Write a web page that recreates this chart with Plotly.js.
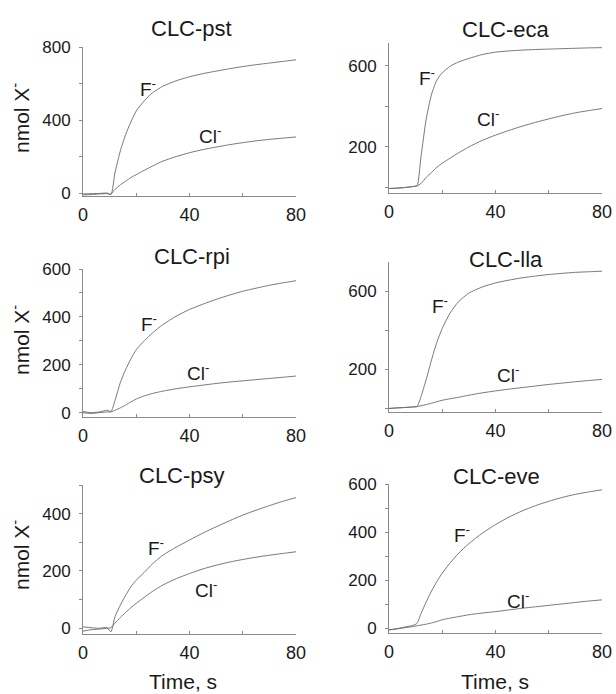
<!DOCTYPE html>
<html>
<head>
<meta charset="utf-8">
<script src="https://cdn.plot.ly/plotly-3.0.1.min.js"></script>
<style>
  html, body { margin: 0; padding: 0; background: #fff; }
  #chart { width: 616px; height: 694px; }
</style>
</head>
<body>
<div id="chart"></div>
<script>
// ---- Data ----
const time = [0, 3, 6, 9, 10.5, 12, 14, 16, 18, 20, 23, 26, 30, 35, 40, 45, 50, 55, 60, 65, 70, 75, 80];

const pstF  = [-5, -3, -2, 0, -8, 110, 230, 320, 390, 450, 505, 548, 585, 615, 637, 654, 668, 681, 693, 703, 712, 721, 730];
const pstCl = [-10, -8, -5, -3, -5, 20, 45, 65, 85, 101, 125, 147, 175, 200, 221, 238, 252, 265, 276, 286, 294, 301, 307];

const ecaF  = [-5, -3, 0, 5, 8, 150, 340, 460, 530, 565, 598, 618, 636, 655, 667, 673, 677, 680, 682, 684, 686, 688, 689];
const ecaCl = [-5, -3, 0, 5, 8, 20, 50, 75, 100, 120, 145, 170, 200, 232, 258, 281, 302, 321, 338, 354, 368, 379, 389];

const rpiF  = [5, 0, 3, 10, 5, 50, 125, 180, 225, 263, 300, 332, 368, 403, 431, 453, 473, 491, 507, 520, 532, 542, 551];
const rpiCl = [0, -3, 0, 3, 3, 10, 20, 32, 45, 57, 70, 80, 90, 100, 108, 115, 122, 128, 133, 138, 143, 148, 153];

const llaF  = [0, 3, 5, 8, 10, 60, 150, 250, 340, 410, 490, 545, 591, 622, 643, 657, 669, 678, 686, 692, 697, 700, 703];
const llaCl = [0, 3, 5, 8, 10, 14, 20, 27, 35, 42, 50, 57, 68, 80, 90, 99, 107, 115, 123, 130, 137, 143, 149];

const psyF  = [5, 2, 0, 2, -12, 40, 80, 115, 145, 168, 195, 224, 255, 283, 308, 332, 354, 375, 395, 412, 428, 443, 456];
const psyCl = [-10, -5, -3, 0, 2, 18, 37, 55, 72, 87, 108, 128, 151, 173, 191, 207, 220, 231, 240, 248, 255, 261, 267];

const eveF  = [-7, -2, 5, 12, 20, 60, 110, 155, 195, 229, 272, 310, 352, 395, 431, 462, 488, 510, 528, 544, 557, 567, 576];
const eveCl = [-7, -3, 2, 7, 10, 13, 17, 22, 28, 35, 42, 48, 56, 63, 69, 76, 83, 89, 95, 101, 107, 113, 118];

const panelNames = ['CLC-pst', 'CLC-eca', 'CLC-rpi', 'CLC-lla', 'CLC-psy', 'CLC-eve'];
const seriesF  = [pstF, ecaF, rpiF, llaF, psyF, eveF];
const seriesCl = [pstCl, ecaCl, rpiCl, llaCl, psyCl, eveCl];

const xTickVals = [0, 40, 80];
const yTickVals = [[0, 400, 800], [200, 600], [0, 200, 400, 600], [200, 600], [0, 200, 400], [0, 200, 400, 600]];
const yMinorStep = [200, 200, 100, 200, 100, 100];
const yRanges = [[-16, 800], [-27, 712], [-18, 600], [-18, 750], [-20, 500], [-20, 600]];

// ---- Layout geometry (pixels) ----
const W = 616, H = 694;
const px = v => v / W;
const py = v => 1 - v / H;
const boxes = [
  {x0: 83, x1: 296, top: 47, bottom: 196},
  {x0: 389, x1: 602, top: 43, bottom: 193},
  {x0: 83, x1: 296, top: 269, bottom: 417},
  {x0: 389, x1: 602, top: 262, bottom: 412},
  {x0: 83, x1: 296, top: 485, bottom: 634},
  {x0: 389, x1: 602, top: 484, bottom: 633}
];
const titlePos = [[191, 28], [506, 30], [192, 257], [506, 259], [182, 475], [497, 477]];
const fPos  = [[148, 88], [427, 77], [149, 323], [440, 305], [156, 547], [462, 534]];
const clPos = [[210, 135], [488, 118], [198, 372], [508, 374], [206, 589], [518, 600]];

const FONT = 'Liberation Sans, Arial, sans-serif';
const TXT = '#1a1a1a';
const LINE = '#6a6a6a';
const AXIS = '#8a8a8a';

const data = [];
const layout = {
  width: W, height: H,
  margin: {l: 0, r: 0, t: 0, b: 0},
  paper_bgcolor: '#fff', plot_bgcolor: '#fff',
  showlegend: false,
  font: {family: FONT, color: TXT, size: 17},
  annotations: []
};

for (let i = 0; i < 6; i++) {
  const n = i + 1;
  const xa = 'x' + (n === 1 ? '' : n);
  const ya = 'y' + (n === 1 ? '' : n);
  [seriesF[i], seriesCl[i]].forEach(s => {
    data.push({
      x: time, y: s, xaxis: xa, yaxis: ya,
      type: 'scatter', mode: 'lines',
      line: {color: LINE, width: 0.9, shape: 'spline', smoothing: 0.6},
      hoverinfo: 'skip'
    });
  });
  const b = boxes[i];
  layout['xaxis' + (n === 1 ? '' : n)] = {
    domain: [px(b.x0), px(b.x1)],
    anchor: ya,
    range: [0, 80],
    showgrid: false, zeroline: false,
    showline: true, linecolor: AXIS, linewidth: 1,
    tickmode: 'array', tickvals: xTickVals,
    ticks: 'inside', ticklen: 3, tickcolor: AXIS,
    minor: {dtick: 20, tick0: 0, ticks: 'inside', ticklen: 3, tickcolor: AXIS},
    tickfont: {size: 18, color: TXT, family: FONT},
    ticklabelstandoff: 2,
    fixedrange: true
  };
  layout['yaxis' + (n === 1 ? '' : n)] = {
    domain: [py(b.bottom), py(b.top)],
    anchor: xa,
    range: yRanges[i],
    showgrid: false, zeroline: false,
    showline: true, linecolor: AXIS, linewidth: 1,
    tickmode: 'array', tickvals: yTickVals[i],
    ticks: 'outside', ticklen: 3, tickcolor: AXIS,
    minor: {dtick: yMinorStep[i], tick0: 0, ticks: 'outside', ticklen: 3, tickcolor: AXIS},
    tickfont: {size: 17, color: TXT, family: FONT},
    ticklabelstandoff: 5,
    fixedrange: true
  };
  layout.annotations.push({
    text: panelNames[i], xref: 'paper', yref: 'paper',
    x: px(titlePos[i][0]), y: py(titlePos[i][1]),
    xanchor: 'center', yanchor: 'middle', showarrow: false,
    font: {size: 22, color: TXT, family: FONT}
  });
  layout.annotations.push({
    text: 'F<sup>-</sup>', xref: 'paper', yref: 'paper',
    x: px(fPos[i][0]), y: py(fPos[i][1]),
    xanchor: 'center', yanchor: 'middle', showarrow: false,
    font: {size: 19, color: TXT, family: FONT}
  });
  layout.annotations.push({
    text: 'Cl<sup>-</sup>', xref: 'paper', yref: 'paper',
    x: px(clPos[i][0]), y: py(clPos[i][1]),
    xanchor: 'center', yanchor: 'middle', showarrow: false,
    font: {size: 19, color: TXT, family: FONT}
  });
}

// y-axis labels (left column)
[118, 340, 555].forEach(yc => {
  layout.annotations.push({
    text: 'nmol X<sup>-</sup>', xref: 'paper', yref: 'paper',
    x: px(20), y: py(yc), xanchor: 'center', yanchor: 'middle',
    textangle: -90, showarrow: false,
    font: {size: 21, color: TXT, family: FONT}
  });
});
// x-axis labels (bottom row)
[183, 495].forEach(xc => {
  layout.annotations.push({
    text: 'Time, s', xref: 'paper', yref: 'paper',
    x: px(xc), y: py(681), xanchor: 'center', yanchor: 'middle',
    showarrow: false,
    font: {size: 21, color: TXT, family: FONT}
  });
});

Plotly.newPlot('chart', data, layout, {staticPlot: true, displayModeBar: false});
</script>
</body>
</html>
